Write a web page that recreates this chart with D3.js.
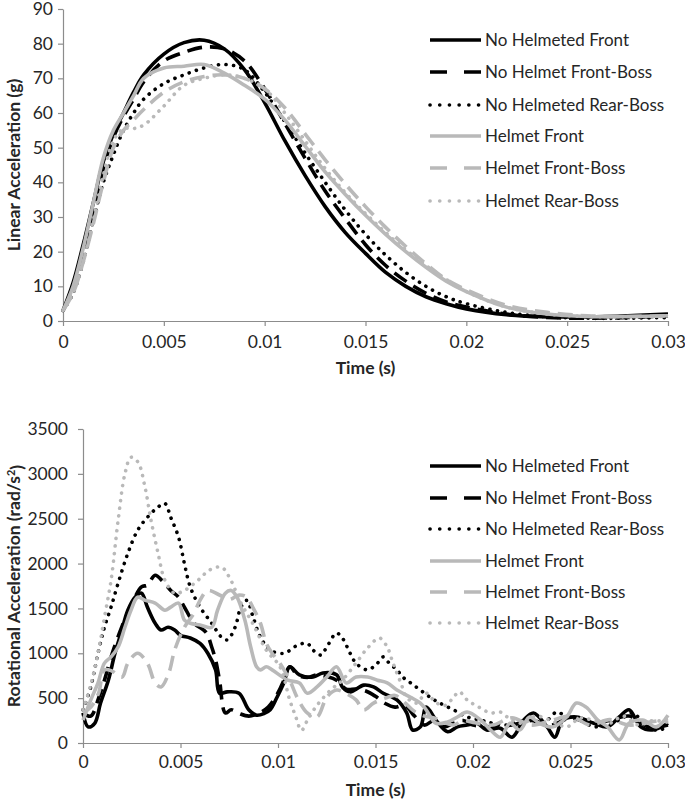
<!DOCTYPE html>
<html><head><meta charset="utf-8">
<script src="https://cdn.jsdelivr.net/npm/d3@7"></script>
<style>
html,body{margin:0;padding:0;background:#fff;}
svg{display:block;font-family:Lato,"Open Sans",sans-serif;}
</style></head>
<body><svg id="c" width="685" height="806"></svg>
<script>
// ---------- DATA ----------
const seriesNames = ["No Helmeted Front","No Helmet Front-Boss","No Helmeted Rear-Boss","Helmet Front","Helmet Front-Boss","Helmet Rear-Boss"];
const xTickValues = [0,0.005,0.01,0.015,0.02,0.025,0.03];
const xTickLabels = ["0","0.005","0.01","0.015","0.02","0.025","0.03"];
const linTicks = [0,10,20,30,40,50,60,70,80,90];
const rotTicks = [0,500,1000,1500,2000,2500,3000,3500];

// Linear acceleration (g)
const linTime = [0,0.0005,0.001,0.0015,0.002,0.0025,0.003,0.0035,0.004,0.005,0.006,0.007,0.008,0.009,0.01,0.011,0.012,0.013,0.014,0.015,0.016,0.017,0.018,0.019,0.02,0.022,0.024,0.026,0.028,0.03];
const linNhFront     = [3,11,22,34,46,54,60,66,71,77,80.3,81,78.5,72.5,63,52,42,33,25.5,19.5,14,10,7,5,3.5,1.8,1.2,1.2,1.5,2];
const linNhFrontBoss = [3,9,19,31,44,53,59,64,69,75,77.5,79,78.5,75,67,57,47,37.5,29.5,22,16,11.5,8,5.5,4,2,1,0.8,1,1.5];
const linNhRearBoss  = [3,8,17,29,40,48,55,60,64,68.5,71,73,74,72.5,66,57.5,48.5,40,32,25,19,14,10,7,5,2.5,1.2,0.8,0.8,1];
const linHFront      = [3,10,21,34,47,55,60,65,70,73,73.5,74,71.5,68,64,58,50.5,43,36.5,30.5,25,20,15.5,11.5,8.5,4,2,1.3,1.3,1.5];
const linHFrontBoss  = [3,8,17,28,40,50,55,58,61,66,69,70.5,71,70,67,61.5,54,46.5,39.5,33,27,21.5,16.5,12,9,4.5,2.5,1.5,1.3,1.5];
const linHRearBoss   = [3,8,17,29,42,52,55.5,55.5,56.5,62,68,70,71,70,67,60,52,44,37,31,25.5,20.5,16,12,8.5,4,2,1.3,1.2,1.3];

// Rotational acceleration (rad/s^2)
const rotNhFrontT = [0,0.00026,0.0006,0.0009,0.0013,0.00164,0.00195,0.0023,0.00267,0.003,0.0033,0.0037,0.004,0.00436,0.0047,0.005,0.0055,0.006,0.0064,0.0068,0.007,0.0074,0.008,0.0085,0.0089,0.0093,0.0096,0.00995,0.0103,0.0106,0.0111,0.0118,0.0123,0.013,0.0133,0.0137,0.0144,0.0149,0.0154,0.0161,0.0166,0.0169,0.0173,0.0176,0.0181,0.0187,0.0192,0.0197,0.0202,0.0207,0.0214,0.022,0.0226,0.0231,0.0238,0.0242,0.0246,0.0253,0.0262,0.0269,0.0275,0.028,0.0286,0.0292,0.03];
const rotNhFrontV = [335,180,220,445,700,1000,1225,1480,1625,1670,1515,1335,1260,1290,1260,1200,1170,1110,1000,815,555,570,555,370,310,330,370,510,670,850,760,735,780,760,625,570,645,625,555,480,335,145,180,400,255,125,180,200,220,145,165,65,255,335,180,65,255,290,220,180,290,370,180,145,220];

const rotNhFrontBossT = [0,0.0004,0.0008,0.0011,0.0015,0.002,0.0025,0.003,0.0033,0.0037,0.0041,0.0045,0.0049,0.0052,0.0057,0.0063,0.0066,0.0068,0.007,0.0073,0.0076,0.008,0.0085,0.009,0.0095,0.01,0.0103,0.0106,0.011,0.0115,0.012,0.0125,0.013,0.0135,0.014,0.0145,0.015,0.0155,0.016,0.0165,0.017,0.0175,0.018,0.0185,0.019,0.0195,0.02,0.021,0.022,0.023,0.024,0.025,0.026,0.027,0.028,0.029,0.03];
const rotNhFrontBossV = [335,300,500,700,1000,1300,1550,1740,1760,1870,1800,1700,1625,1515,1335,1235,1070,925,700,335,370,330,300,330,400,560,700,850,760,730,760,740,700,600,600,580,520,440,400,420,300,200,250,180,220,250,200,180,200,250,200,280,220,250,300,180,200];

const rotNhRearBossT = [0,0.0004,0.00077,0.0011,0.00144,0.0018,0.0023,0.0028,0.0033,0.00385,0.0042,0.0045,0.0049,0.0052,0.0055,0.006,0.0066,0.0071,0.0074,0.0078,0.0081,0.0084,0.0087,0.0091,0.0096,0.0103,0.011,0.0115,0.0118,0.0122,0.0125,0.013,0.0133,0.0137,0.014,0.0146,0.0151,0.0154,0.0157,0.0161,0.0164,0.0168,0.0173,0.0178,0.0183,0.019,0.0197,0.0204,0.021,0.0217,0.0223,0.0229,0.0236,0.0243,0.0248,0.0255,0.0262,0.0269,0.0275,0.0282,0.0289,0.0296,0.03];
const rotNhRearBossV = [370,625,1000,1290,1515,1780,2115,2370,2515,2630,2670,2515,2295,2000,1740,1515,1335,1180,1150,1290,1515,1590,1420,1180,1035,1000,1090,1110,1035,980,1070,1225,1170,1000,890,815,890,960,890,815,735,670,590,510,445,370,290,255,220,200,240,255,220,345,290,255,180,220,255,335,180,145,200];

const rotHFrontT = [0,0.0004,0.00077,0.0011,0.00144,0.0018,0.00215,0.00246,0.0028,0.0032,0.0037,0.0042,0.0045,0.0049,0.0052,0.0055,0.006,0.0066,0.0069,0.0073,0.0076,0.0079,0.0083,0.0086,0.0089,0.0091,0.0094,0.0097,0.0105,0.0111,0.0115,0.012,0.0125,0.013,0.0135,0.014,0.0146,0.0151,0.0156,0.0161,0.0168,0.0173,0.0176,0.0181,0.0187,0.0192,0.0197,0.0204,0.0209,0.0214,0.0219,0.0224,0.0229,0.0234,0.0241,0.0248,0.0253,0.0258,0.0264,0.0269,0.0275,0.028,0.0287,0.0294,0.03];
const rotHFrontV = [255,480,670,890,960,1070,1290,1480,1625,1590,1560,1480,1515,1560,1370,1335,1315,1290,1480,1670,1700,1625,1370,1070,850,815,850,815,700,670,555,625,735,850,670,735,735,700,670,590,510,445,370,220,235,290,345,255,145,65,220,145,290,220,180,290,445,400,255,180,35,220,255,180,310];

const rotHFrontBossT = [0,0.0004,0.0008,0.0011,0.0015,0.002,0.0023,0.0028,0.0033,0.0037,0.004,0.0044,0.0047,0.0052,0.0057,0.006,0.0064,0.007,0.0075,0.008,0.0084,0.0087,0.0091,0.0094,0.0097,0.0101,0.0106,0.011,0.0115,0.012,0.0125,0.013,0.0135,0.014,0.0144,0.0149,0.0155,0.016,0.0165,0.017,0.0175,0.018,0.0185,0.019,0.0195,0.02,0.021,0.022,0.023,0.024,0.025,0.026,0.027,0.028,0.029,0.03];
const rotHFrontBossV = [335,400,555,815,800,735,890,1000,890,670,625,780,1035,1290,1450,1590,1700,1650,1600,1650,1625,1515,1335,1110,1000,890,700,500,335,290,510,590,550,480,370,445,500,530,450,350,300,280,230,200,250,230,200,280,200,250,300,200,260,200,230,270];

const rotHRearBossT = [0,0.0004,0.00077,0.0011,0.00144,0.0018,0.00215,0.00246,0.00282,0.00318,0.00349,0.00385,0.0042,0.0047,0.0052,0.0059,0.0065,0.0071,0.0075,0.0081,0.0087,0.0094,0.0101,0.0106,0.0109,0.0112,0.0115,0.012,0.0127,0.0133,0.014,0.0146,0.0152,0.0156,0.0159,0.0163,0.0166,0.0171,0.0176,0.0181,0.0186,0.019,0.0193,0.0197,0.0203,0.0209,0.0214,0.022,0.0226,0.0232,0.024,0.0248,0.0255,0.0262,0.027,0.0277,0.0285,0.0292,0.03];
const rotHRearBossV = [370,650,1000,1400,1815,2480,3000,3185,3130,2850,2480,2115,1815,1670,1700,1815,1930,1960,1850,1560,1335,1035,850,480,300,140,250,420,590,700,890,1060,1170,1070,890,670,510,445,555,450,420,510,570,480,400,335,345,250,220,300,250,180,280,250,220,300,200,250,230];

// ---------- STYLE ----------
const BLACK = "#000000", GRAY = "#b9b9b9";
const styles = [
  {color:BLACK, dash:null, cap:"butt", legDash:null},
  {color:BLACK, dash:"15,8", cap:"butt", legDash:"17,17"},
  {color:BLACK, dash:"0.1,7.5", cap:"round", legDash:"0.1,9.6"},
  {color:GRAY, dash:null, cap:"butt", legDash:null},
  {color:GRAY, dash:"15,8", cap:"butt", legDash:"17,17"},
  {color:GRAY, dash:"0.1,7.5", cap:"round", legDash:"0.1,9.6"}
];

const svg = d3.select("#c");
const AXIS = "#8c8c8c", TXT = "#262626";

function drawChart(cfg){
  const x = d3.scaleLinear().domain([0,0.03]).range([cfg.x0,cfg.x1]);
  const y = d3.scaleLinear().domain(cfg.yDomain).range([cfg.y0,cfg.y1]);
  const g = svg.append("g");

  const xa = g.append("g").attr("transform",`translate(0,${cfg.y0})`)
    .call(d3.axisBottom(x).tickValues(xTickValues).tickFormat((d,i)=>xTickLabels[i]).tickSizeInner(5).tickSizeOuter(0).tickPadding(cfg.xPad));
  const ya = g.append("g").attr("transform",`translate(${cfg.x0},0)`)
    .call(d3.axisLeft(y).tickValues(cfg.yTicks).tickFormat(d=>String(d)).tickSizeInner(5).tickSizeOuter(0).tickPadding(cfg.yPad));
  [xa,ya].forEach(a=>{
    a.select(".domain").attr("stroke",AXIS).attr("stroke-width",1.2);
    a.selectAll(".tick line").attr("stroke",AXIS).attr("stroke-width",1.2);
    a.selectAll(".tick text").attr("fill",TXT).style("font-size","17.5px").style("font-family","Lato, sans-serif");
  });

  g.append("text").attr("x",(cfg.x0+cfg.x1)/2).attr("y",cfg.xTitleY)
    .attr("text-anchor","middle").attr("fill",TXT).style("font-weight","bold").style("font-size","17.5px").text("Time (s)");
  const yt = g.append("text").attr("transform",`translate(${cfg.yTitleX},${(cfg.y0+cfg.y1)/2}) rotate(-90)`)
    .attr("text-anchor","middle").attr("fill",TXT).style("font-weight","bold").style("font-size","17.5px");
  cfg.yTitle(yt);

  const line = d3.line().x(d=>x(d[0])).y(d=>y(d[1])).curve(cfg.curve);
  cfg.series.forEach((s,i)=>{
    const pts = s.t.map((t,j)=>[t,s.v[j]]);
    const p = g.append("path").datum(pts).attr("d",line)
      .attr("fill","none").attr("stroke",styles[i].color).attr("stroke-width",3.6)
      .attr("stroke-linecap",styles[i].cap).attr("stroke-linejoin","round");
    if(styles[i].dash) p.attr("stroke-dasharray",styles[i].dash);
  });

  const lg = g.append("g");
  seriesNames.forEach((n,i)=>{
    const yy = cfg.legY[i];
    const l = lg.append("line").attr("x1",cfg.legX0).attr("x2",cfg.legX1).attr("y1",yy).attr("y2",yy)
      .attr("stroke",styles[i].color).attr("stroke-width",3.6).attr("stroke-linecap",styles[i].cap);
    if(styles[i].legDash) l.attr("stroke-dasharray",styles[i].legDash);
    lg.append("text").attr("x",cfg.legX1+4).attr("y",yy).attr("dy","0.35em")
      .attr("fill",TXT).style("font-size","17px").text(n);
  });
}

drawChart({
  x0:63, x1:668, y0:321, y1:9, yDomain:[0,90], yTicks:linTicks, xPad:10, yPad:5,
  xTitleY:374, yTitleX:20,
  yTitle: t=>t.text("Linear Acceleration (g)"),
  curve: d3.curveCatmullRom.alpha(0.5),
  series:[
    {t:linTime,v:linNhFront},{t:linTime,v:linNhFrontBoss},{t:linTime,v:linNhRearBoss},
    {t:linTime,v:linHFront},{t:linTime,v:linHFrontBoss},{t:linTime,v:linHRearBoss}],
  legX0:430, legX1:481, legY:[40,72,105,136,168,201]
});

drawChart({
  x0:83, x1:668, y0:743, y1:429, yDomain:[0,3500], yTicks:rotTicks, xPad:8, yPad:10,
  xTitleY:796, yTitleX:20,
  yTitle: t=>{ t.append("tspan").text("Rotational Acceleration (rad/s");
               t.append("tspan").attr("dy","-0.45em").style("font-size","11px").text("2");
               t.append("tspan").attr("dy","0.45em").text(")"); },
  curve: d3.curveCatmullRom.alpha(0.5),
  series:[
    {t:rotNhFrontT,v:rotNhFrontV},{t:rotNhFrontBossT,v:rotNhFrontBossV},{t:rotNhRearBossT,v:rotNhRearBossV},
    {t:rotHFrontT,v:rotHFrontV},{t:rotHFrontBossT,v:rotHFrontBossV},{t:rotHRearBossT,v:rotHRearBossV}],
  legX0:430, legX1:481, legY:[466,498,529,561,592,623]
});
</script></body></html>
